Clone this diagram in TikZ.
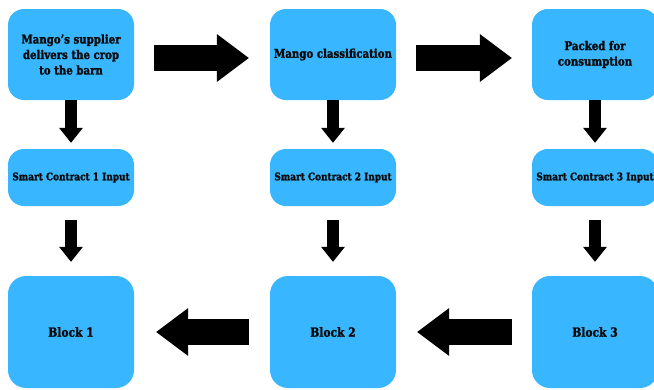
\documentclass[tikz,border=0pt]{standalone}
\usepackage{fontspec}
\newfontfamily\lblfont[FakeStretch=0.85,FakeBold=1.6]{DejaVu Serif}
\usetikzlibrary{arrows.meta}
\definecolor{boxblue}{HTML}{38B6FF}
\definecolor{ink}{HTML}{0A0A0A}
\tikzset{
  card/.style={fill=boxblue, rounded corners=16pt, minimum width=126pt, inner sep=0pt, align=center, text=ink, font=\lblfont\bfseries},
  topcard/.style={card, minimum height=91pt, font=\lblfont\bfseries\fontsize{12}{15.5}\selectfont},
  midcard/.style={card, minimum height=57pt, font=\lblfont\bfseries\fontsize{10.5}{12}\selectfont},
  blockcard/.style={card, minimum height=112pt, rounded corners=18pt, font=\lblfont\bfseries\fontsize{12.6}{15}\selectfont},
  harrow/.style={draw=black, line width=26pt, -{Triangle[length=32pt,width=48pt,line width=0pt]}},
  varrow/.style={draw=black, line width=12pt, -{Triangle[length=15pt,width=24pt,line width=0pt]}}
}
\begin{document}
\begin{tikzpicture}[x=1pt,y=-1pt]
\useasboundingbox (0,0) rectangle (654,389);
\node[topcard] (t1) at (71,54.5) {Mango’s supplier\\delivers the crop\\to the barn};
\node[topcard] (t2) at (333,54.5) {Mango classification};
\node[topcard] (t3) at (595,54.5) {Packed for\\consumption};
\node[midcard] (m1) at (71,177.5) {Smart Contract 1 Input};
\node[midcard] (m2) at (333,177.5) {Smart Contract 2 Input};
\node[midcard] (m3) at (595,177.5) {Smart Contract 3 Input};
\node[blockcard] (b1) at (71,332) {Block 1};
\node[blockcard] (b2) at (333,332) {Block 2};
\node[blockcard] (b3) at (595,332) {Block 3};
% top row arrows
\draw[harrow, shorten <=20pt, shorten >=21pt] ([yshift=-3.5pt]t1.east) -- ([yshift=-3.5pt]t2.west);
\draw[harrow, shorten <=20pt, shorten >=20pt] ([yshift=-3.5pt]t2.east) -- ([yshift=-3.5pt]t3.west);
% down arrows
\foreach \i in {1,2,3}{
  \draw[varrow, shorten >=6pt] (t\i.south) -- (m\i.north);
  \draw[varrow, shorten <=14pt, shorten >=14pt] (m\i.south) -- (b\i.north);
}
% bottom row arrows
\draw[harrow, shorten <=21pt, shorten >=22pt] (b2.west) -- (b1.east);
\draw[harrow, shorten <=20pt, shorten >=21pt] (b3.west) -- (b2.east);
\end{tikzpicture}
\end{document}
